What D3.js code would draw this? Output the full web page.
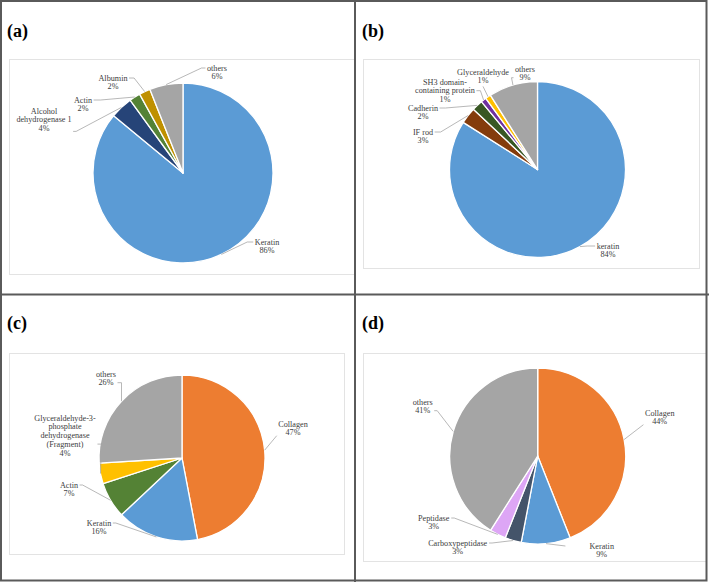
<!DOCTYPE html>
<html><head><meta charset="utf-8">
<script src="https://cdn.jsdelivr.net/npm/d3@7"></script>
<style>body{margin:0;background:#fff}svg{display:block}</style>
</head><body>
<svg id="chart" width="709" height="582"></svg>
<script>
// ---------- DATA ----------
const panelTags = ["(a)", "(b)", "(c)", "(d)"];

const catsA = ["Keratin", "Alcohol\ndehydrogenase 1", "Actin", "Albumin", "others"];
const valsA = [86, 4, 2, 2, 6];

const catsB = ["keratin", "IF rod", "Cadherin", "SH3 domain-\ncontaining protein", "Glyceraldehyde", "others"];
const valsB = [84, 3, 2, 1, 1, 9];

const catsC = ["Collagen", "Keratin", "Actin", "Glyceraldehyde-3-\nphosphate\ndehydrogenase\n(Fragment)", "others"];
const valsC = [47, 16, 7, 4, 26];

const catsD = ["Collagen", "Keratin", "Carboxypeptidase", "Peptidase", "others"];
const valsD = [44, 9, 3, 3, 41];

// ---------- STYLE / LAYOUT ----------
const colorsA = ["#5B9BD5", "#264478", "#548235", "#BF9000", "#A5A5A5"];
const colorsB = ["#5B9BD5", "#843C0C", "#385723", "#7030A0", "#FFC000", "#A5A5A5"];
const colorsC = ["#ED7D31", "#5B9BD5", "#548235", "#FFC000", "#A5A5A5"];
const colorsD = ["#ED7D31", "#5B9BD5", "#44546A", "#DDA6F5", "#A5A5A5"];

const panels = [
  { tag: panelTags[0], cats: catsA, vals: valsA, colors: colorsA,
    tagPos: [7, 37], box: [9, 59, 354, 274], c: [183, 173], r: 90,
    labels: [
      { dx: 84, dy: 69, side: "l", line: 0, elbow: 6 },
      { dx: -139, dy: -62, side: "r", line: 2, yoff: 3, elbow: 3 },
      { dx: -100, dy: -73, side: "r", line: 0, elbow: 7 },
      { dx: -70, dy: -95, side: "r", line: 0, elbow: 5 },
      { dx: 34, dy: -105, side: "l", line: 0, elbow: 4 }
    ] },
  { tag: panelTags[1], cats: catsB, vals: valsB, colors: colorsB,
    tagPos: [362, 37], box: [363, 59, 699, 268], c: [537.5, 169.5], r: 88,
    labels: [
      { dx: 70.5, dy: 76.5, side: "l", line: 0, elbow: 8 },
      { dx: -114.5, dy: -37.5, side: "r", line: 0, elbow: 6 },
      { dx: -114.5, dy: -61.5, side: "r", line: 0, elbow: 6 },
      { dx: -92.5, dy: -87.5, side: "r", line: 1, elbow: 4 },
      { dx: -54.5, dy: -97.5, side: "b" },
      { dx: -12.5, dy: -100.5, side: "l", line: 1, elbow: 2 }
    ] },
  { tag: panelTags[2], cats: catsC, vals: valsC, colors: colorsC,
    tagPos: [7, 329], box: [9, 353, 344, 554], c: [182, 458], r: 83,
    labels: [
      { dx: 111, dy: -34, side: "l", line: 1, yoff: 3, elbow: 0 },
      { dx: -83, dy: 65, side: "r", line: 0, elbow: 3 },
      { dx: -113, dy: 27, side: "r", line: 0, elbow: 3 },
      { dx: -117, dy: -40, side: "r", line: 3, elbow: 4 },
      { dx: -76, dy: -84, side: "r", line: 1, elbow: 4 }
    ] },
  { tag: panelTags[3], cats: catsD, vals: valsD, colors: colorsD,
    tagPos: [362, 329], box: [363, 353, 706, 561], c: [537.7, 456], r: 88,
    labels: [
      { dx: 122, dy: -43, side: "l", line: 1, yoff: 3, elbow: 0 },
      { dx: 64, dy: 90, side: "l", line: 0, elbow: 0, gap: 24 },
      { dx: -80, dy: 87, side: "r", line: 0, elbow: 3 },
      { dx: -104, dy: 62, side: "r", line: 0, elbow: 3 },
      { dx: -115, dy: -54, side: "r", line: 1, elbow: 3 }
    ] }
];

const FONT = "'Liberation Serif', 'Times New Roman', serif";
const FS = 8.2;
const LH = 8.7;

const svg = d3.select("#chart");

panels.forEach(p => {
  const g = svg.append("g");
  // chart area box
  g.append("rect")
    .attr("x", p.box[0] + 0.5).attr("y", p.box[1] + 0.5)
    .attr("width", p.box[2] - p.box[0]).attr("height", p.box[3] - p.box[1])
    .attr("fill", "#fff").attr("stroke", "#E3E3E3").attr("stroke-width", 1);

  // panel tag
  g.append("text").attr("x", p.tagPos[0]).attr("y", p.tagPos[1])
    .attr("font-family", FONT).attr("font-weight", "bold").attr("font-size", 18)
    .attr("fill", "#000").text(p.tag);

  const data = p.cats.map((c, i) => ({ name: c, v: p.vals[i], color: p.colors[i], lab: p.labels[i] }));
  const pie = d3.pie().sort(null).value(d => d.v).startAngle(0).endAngle(2 * Math.PI);
  const arcs = pie(data);
  const arc = d3.arc().innerRadius(0).outerRadius(p.r);
  const edgeArc = d3.arc().innerRadius(p.r).outerRadius(p.r);

  const pg = g.append("g").attr("transform", `translate(${p.c[0]},${p.c[1]})`);
  pg.selectAll("path.slice").data(arcs).join("path")
    .attr("class", "slice")
    .attr("d", arc)
    .attr("fill", d => d.data.color)
    .attr("stroke", "#fff").attr("stroke-width", 1.3).attr("stroke-linejoin", "round");

  // labels
  const lg = pg.append("g");
  arcs.forEach(a => {
    const L = a.data.lab;
    const lines = a.data.name.split("\n").concat([a.data.v + "%"]);
    const t = lg.append("text")
      .attr("font-family", FONT).attr("font-size", FS).attr("fill", "#404040")
      .attr("text-anchor", "middle");
    lines.forEach((s, k) => t.append("tspan")
      .attr("x", L.dx).attr("y", L.dy + k * LH + FS * 0.33).text(s));
    const bb = t.node().getBBox();
    const gap = L.gap != null ? L.gap : 1.5;
    let A, E;
    if (L.side === "l" || L.side === "r") {
      const ly = L.dy + L.line * LH + (L.yoff || 0);
      const ax = L.side === "l" ? bb.x - gap : bb.x + bb.width + gap;
      A = [ax, ly];
      E = [ax + (L.side === "l" ? -1 : 1) * (L.elbow || 0), ly];
    } else {
      A = [L.dx, bb.y + bb.height + 1];
      E = A;
    }
    const P = edgeArc.centroid(a);
    lg.append("polyline")
      .attr("points", [P, E, A].map(q => q.join(",")).join(" "))
      .attr("fill", "none").attr("stroke", "#A6A6A6").attr("stroke-width", 0.8);
  });
});

// panel frame: outer border and dividers
const frame = svg.append("g").attr("stroke", "#5A5A5A").attr("stroke-width", 2).attr("fill", "none");
frame.append("rect").attr("x", 1).attr("y", 1).attr("width", 705.5).attr("height", 579.5);
frame.append("line").attr("x1", 355).attr("x2", 355).attr("y1", 0).attr("y2", 582);
frame.append("line").attr("x1", 0).attr("x2", 709).attr("y1", 294.5).attr("y2", 294.5);
</script>
</body></html>
